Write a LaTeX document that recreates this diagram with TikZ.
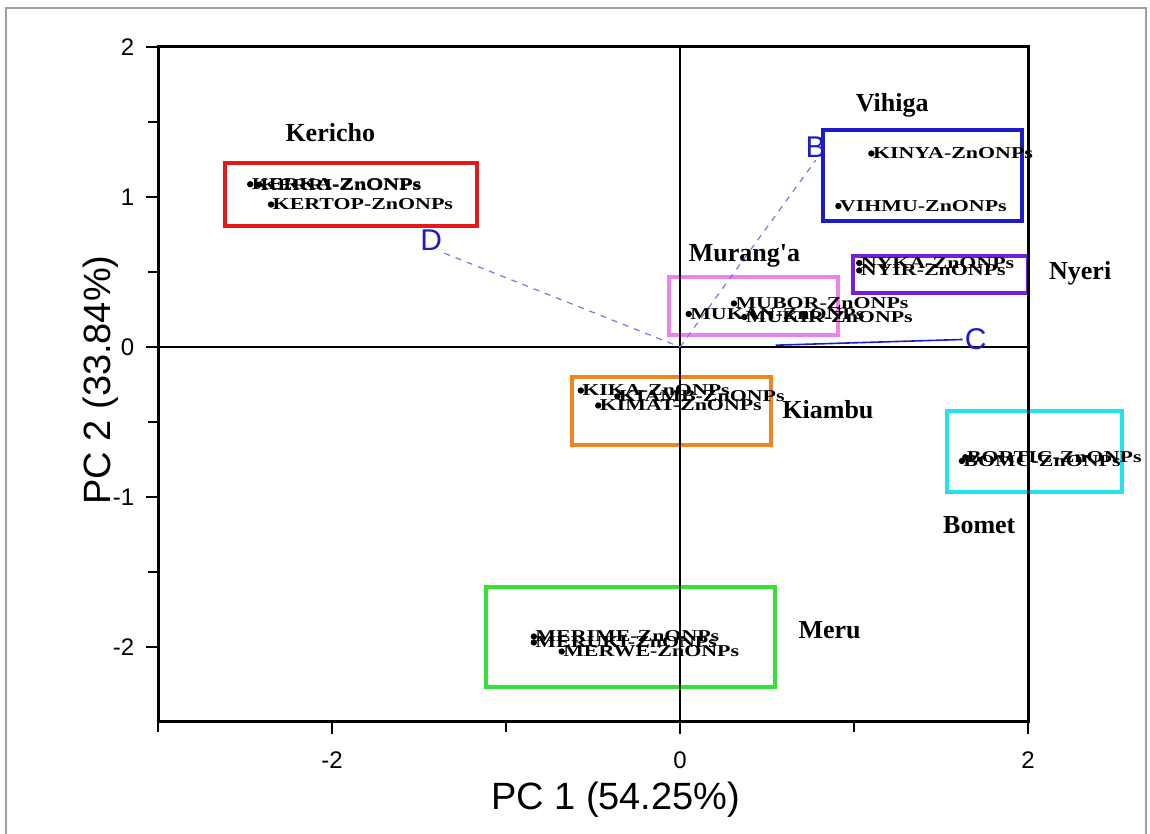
\documentclass[tikz,border=0pt]{standalone}
\usepackage{fontspec}
\setmainfont{Liberation Serif}
\setsansfont{Liberation Sans}
\newfontfamily\sampfont[FakeStretch=1.32]{Liberation Serif Bold}
\usepackage{xcolor}
\usepackage{tikz}
\usetikzlibrary{positioning,calc}

\definecolor{kerred}{RGB}{228,24,24}
\definecolor{vihblue}{RGB}{28,28,200}
\definecolor{nyepurple}{RGB}{118,32,222}
\definecolor{murpink}{RGB}{236,130,236}
\definecolor{kiaorange}{RGB}{240,132,32}
\definecolor{bomcyan}{RGB}{34,226,236}
\definecolor{megreen}{RGB}{52,226,52}
\definecolor{loadblue}{RGB}{120,120,225}

\begin{document}
\begin{tikzpicture}[x=0.5pt,y=0.5pt,
    grp/.style={font=\fontsize{13}{13}\selectfont\bfseries},
    samp/.style={font=\fontsize{8.3}{8.3}\sampfont, anchor=west, inner sep=0.6pt},
    clbox/.style={line width=2.3pt},
    letr/.style={font=\sffamily\fontsize{15}{15}\selectfont, text=vihblue, inner sep=1pt},
    loading/.style={loadblue, line width=0.6pt, dashed},
    ticklab/.style={font=\sffamily\fontsize{12}{12}\selectfont}]
    \useasboundingbox (0,0) rectangle (1150,834);
    % Frame of the figure
    \draw[gray!75, line width=1.2pt] (6,-5) -- (6,826) -- (1146,826) -- (1146,-5);

    \begin{scope}[shift={(340pt,243.5pt)}, x=87pt, y=75pt]
        % Cluster boxes
        \draw[clbox, kerred] (-2.615,0.807) rectangle (-1.167,1.227);
        \draw[clbox, vihblue] (0.822,0.84) rectangle (1.966,1.447);
        \draw[clbox, nyepurple] (0.994,0.36) rectangle (2.0,0.607);
        \draw[clbox, murpink] (-0.063,0.08) rectangle (0.908,0.467);
        \draw[clbox, kiaorange] (-0.621,-0.653) rectangle (0.523,-0.2);
        \draw[clbox, bomcyan] (1.534,-0.967) rectangle (2.54,-0.427);
        \draw[clbox, megreen] (-1.115,-2.267) rectangle (0.546,-1.6);

        % Axes
        \draw[line width=1.5pt] (-3,-2.5) rectangle (2,2);
        \draw[line width=1pt] (-3,0) -- (2,0);
        \draw[line width=1pt] (0,-2.5) -- (0,2);
        \foreach \y in {-2,-1,0,1,2}
            \draw[line width=1.2pt] (-3,\y) -- ++(-6pt,0) node[ticklab, left=2pt] {\y};
        \foreach \y in {-1.5,-0.5,0.5,1.5}
            \draw[line width=1.2pt] (-3,\y) -- ++(-5pt,0);
        \foreach \x in {-2,0,2}
            \draw[line width=1.2pt] (\x,-2.5) -- ++(0,-6pt) node[ticklab, below=5pt] {\x};
        \foreach \x in {-3,-1,1}
            \draw[line width=1.2pt] (\x,-2.5) -- ++(0,-5pt);
        \node[font=\sffamily\fontsize{19}{19}\selectfont] (xlab) at (-0.37,-3.02) {PC 1 (54.25\%)};
        \node[font=\sffamily\fontsize{19}{19}\selectfont, rotate=90] (ylab) at (-3.33,-0.22) {PC 2 (33.84\%)};

        % Loading lines
        \coordinate (o) at (0,0);
        \node[letr] (B) at (0.78,1.33) {B};
        \node[letr] (C) at (1.70,0.05) {C};
        \node[letr] (D) at (-1.43,0.71) {D};
        \draw[loading] (o) -- (B.south);
        \draw[loading] (D.south east) -- (o);
        \draw[vihblue, line width=0.8pt] (0.55,0.012) -- (C.west);

        % Kericho
        \foreach \nm/\px/\py/\txt in {kerka/-2.47/1.085/KERKA-ZnONPs, kerri/-2.42/1.082/KERRI-ZnONPs, kertop/-2.35/0.95/KERTOP-ZnONPs}{
            \coordinate (\nm) at (\px,\py);
            \fill (\nm) circle (1.6pt) node[samp] (\nm l) {\txt};
        }
        \node[grp] (kericho) at (-2.01,1.43) {Kericho};

        % Vihiga
        \foreach \nm/\px/\py/\txt in {kinya/1.10/1.29/KINYA-ZnONPs, vihmu/0.91/0.94/VIHMU-ZnONPs}{
            \coordinate (\nm) at (\px,\py);
            \fill (\nm) circle (1.6pt) node[samp] (\nm l) {\txt};
        }
        \node[grp] (vihiga) at (1.22,1.61) {Vihiga};

        % Nyeri
        \foreach \nm/\px/\py/\txt in {nyka/1.03/0.56/NYKA-ZnONPs, nyir/1.03/0.51/NYIR-ZnONPs}{
            \coordinate (\nm) at (\px,\py);
            \fill (\nm) circle (1.6pt) node[samp] (\nm l) {\txt};
        }
        \node[grp] (nyeri) at (2.30,0.49) {Nyeri};

        % Murang'a
        \foreach \nm/\px/\py/\txt in {mukan/0.05/0.22/MUKAN-ZnONPs, mubor/0.31/0.29/MUBOR-ZnONPs, mukir/0.37/0.20/MUKIR-ZnONPs}{
            \coordinate (\nm) at (\px,\py);
            \fill (\nm) circle (1.6pt) node[samp] (\nm l) {\txt};
        }
        \node[grp] (muranga) at (0.37,0.61) {Murang\textquotesingle a};

        % Kiambu
        \foreach \nm/\px/\py/\txt in {kika/-0.57/-0.29/KIKA-ZnONPs, kiamb/-0.36/-0.33/KIAMB-ZnONPs, kimat/-0.47/-0.39/KIMAT-ZnONPs}{
            \coordinate (\nm) at (\px,\py);
            \fill (\nm) circle (1.6pt) node[samp] (\nm l) {\txt};
        }
        \node[grp] (kiambu) at (0.85,-0.42) {Kiambu};

        % Bomet
        \foreach \nm/\px/\py/\txt in {bortic/1.64/-0.735/BORTIC-ZnONPs, bomc/1.62/-0.76/BOMC-ZnONPs}{
            \coordinate (\nm) at (\px,\py);
            \fill (\nm) circle (1.6pt) node[samp] (\nm l) {\txt};
        }
        \node[grp] (bomet) at (1.72,-1.19) {Bomet};

        % Meru
        \foreach \nm/\px/\py/\txt in {merime/-0.84/-1.93/MERIME-ZnONPs, meruki/-0.84/-1.97/MERUKI-ZnONPs, merwe/-0.68/-2.03/MERWE-ZnONPs}{
            \coordinate (\nm) at (\px,\py);
            \fill (\nm) circle (1.6pt) node[samp] (\nm l) {\txt};
        }
        \node[grp] (meru) at (0.86,-1.89) {Meru};
    \end{scope}
\end{tikzpicture}
\end{document}
